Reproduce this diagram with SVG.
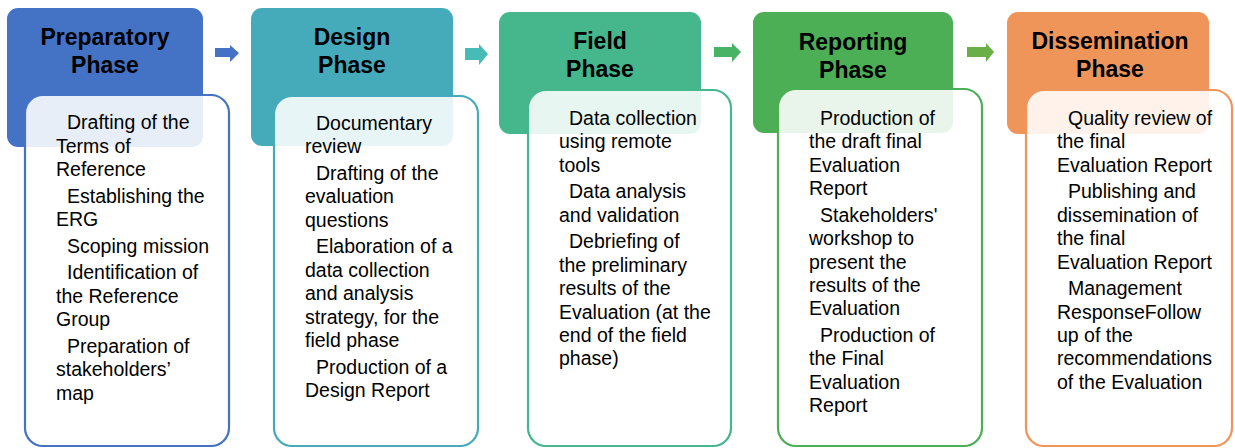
<svg xmlns="http://www.w3.org/2000/svg" width="1235" height="448" viewBox="0 0 1235 448">
  <style>
    .hd { font-family: "Liberation Sans", Arial, sans-serif; font-weight: bold; font-size: 23px; fill: #000; text-anchor: middle; }
    .bd { font-family: "Liberation Sans", Arial, sans-serif; font-size: 19.5px; fill: #000; }
    .box { fill: #ffffff; fill-opacity: 0.88; stroke-width: 2.2; }
  </style>
  <rect width="1235" height="448" fill="#ffffff"/>

  <g id="connectors">
    <polygon points="215,48 230,48 230,45 239,53 230,62 230,57 215,57" fill="#4472c4"/>
    <polygon points="465,48 479,48 479,44 488,54 479,65 479,60 465,60" fill="#47bcb6"/>
    <polygon points="714,47 732,47 732,43 741,52 732,62 732,57 714,57" fill="#48b364"/>
    <polygon points="967,47 986,47 986,43 994,52 986,62 986,57 967,57" fill="#6aae47"/>
  </g>

  <g id="preparatory">
    <rect x="7" y="8" width="196" height="139" rx="11" fill="#4472c4"/>
    <text class="hd"><tspan x="105" y="45">Preparatory</tspan><tspan x="105" y="73">Phase</tspan></text>
    <rect class="box" x="25" y="95" width="204" height="351" rx="18" stroke="#4472c4"/>
    <text class="bd">
      <tspan x="67" y="129.3">Drafting of the</tspan>
      <tspan x="56" y="152.7">Terms of</tspan>
      <tspan x="56" y="176.1">Reference</tspan>
      <tspan x="67" y="202.7">Establishing the</tspan>
      <tspan x="56" y="226.1">ERG</tspan>
      <tspan x="67" y="252.7">Scoping mission</tspan>
      <tspan x="67" y="279.3">Identification of</tspan>
      <tspan x="56" y="302.7">the Reference</tspan>
      <tspan x="56" y="326.1">Group</tspan>
      <tspan x="67" y="352.7">Preparation of</tspan>
      <tspan x="56" y="376.1">stakeholders’</tspan>
      <tspan x="56" y="399.5">map</tspan>
    </text>
  </g>

  <g id="design">
    <rect x="251" y="8" width="202" height="138" rx="11" fill="#45abbb"/>
    <text class="hd"><tspan x="352" y="44.5">Design</tspan><tspan x="352" y="73">Phase</tspan></text>
    <rect class="box" x="274" y="96" width="204" height="350" rx="18" stroke="#45abbb"/>
    <text class="bd">
      <tspan x="316" y="130">Documentary</tspan>
      <tspan x="305" y="153.4">review</tspan>
      <tspan x="316" y="180">Drafting of the</tspan>
      <tspan x="305" y="203.4">evaluation</tspan>
      <tspan x="305" y="226.8">questions</tspan>
      <tspan x="316" y="253.4">Elaboration of a</tspan>
      <tspan x="305" y="276.8">data collection</tspan>
      <tspan x="305" y="300.2">and analysis</tspan>
      <tspan x="305" y="323.6">strategy, for the</tspan>
      <tspan x="305" y="347">field phase</tspan>
      <tspan x="316" y="373.6">Production of a</tspan>
      <tspan x="305" y="397">Design Report</tspan>
    </text>
  </g>

  <g id="field">
    <rect x="499" y="12" width="202" height="122" rx="11" fill="#46b68c"/>
    <text class="hd"><tspan x="600" y="48.5">Field</tspan><tspan x="600" y="77">Phase</tspan></text>
    <rect class="box" x="528" y="90" width="203" height="356" rx="18" stroke="#46b68c"/>
    <text class="bd">
      <tspan x="569" y="125">Data collection</tspan>
      <tspan x="559" y="148.4">using remote</tspan>
      <tspan x="559" y="171.8">tools</tspan>
      <tspan x="569" y="198.4">Data analysis</tspan>
      <tspan x="559" y="221.8">and validation</tspan>
      <tspan x="569" y="248.4">Debriefing of</tspan>
      <tspan x="559" y="271.8">the preliminary</tspan>
      <tspan x="559" y="295.2">results of the</tspan>
      <tspan x="559" y="318.6">Evaluation (at the</tspan>
      <tspan x="559" y="342">end of the field</tspan>
      <tspan x="559" y="365.4">phase)</tspan>
    </text>
  </g>

  <g id="reporting">
    <rect x="753" y="12" width="200" height="121" rx="11" fill="#4caf55"/>
    <text class="hd"><tspan x="853" y="49.5">Reporting</tspan><tspan x="853" y="77.5">Phase</tspan></text>
    <rect class="box" x="778" y="89" width="204" height="357" rx="18" stroke="#4caf55"/>
    <text class="bd">
      <tspan x="820" y="125">Production of</tspan>
      <tspan x="809" y="148.4">the draft final</tspan>
      <tspan x="809" y="171.8">Evaluation</tspan>
      <tspan x="809" y="195.2">Report</tspan>
      <tspan x="820" y="221.8">Stakeholders'</tspan>
      <tspan x="809" y="245.2">workshop to</tspan>
      <tspan x="809" y="268.6">present the</tspan>
      <tspan x="809" y="292">results of the</tspan>
      <tspan x="809" y="315.4">Evaluation</tspan>
      <tspan x="820" y="342">Production of</tspan>
      <tspan x="809" y="365.4">the Final</tspan>
      <tspan x="809" y="388.8">Evaluation</tspan>
      <tspan x="809" y="412.2">Report</tspan>
    </text>
  </g>

  <g id="dissemination">
    <rect x="1007" y="12" width="202" height="122" rx="11" fill="#f0955a"/>
    <text class="hd"><tspan x="1110" y="48.5">Dissemination</tspan><tspan x="1110" y="77">Phase</tspan></text>
    <rect class="box" x="1026" y="90" width="206" height="356" rx="18" stroke="#f0955a"/>
    <text class="bd">
      <tspan x="1068" y="125">Quality review of</tspan>
      <tspan x="1057" y="148.4">the final</tspan>
      <tspan x="1057" y="171.8">Evaluation Report</tspan>
      <tspan x="1068" y="198.4">Publishing and</tspan>
      <tspan x="1057" y="221.8">dissemination of</tspan>
      <tspan x="1057" y="245.2">the final</tspan>
      <tspan x="1057" y="268.6">Evaluation Report</tspan>
      <tspan x="1068" y="295.2">Management</tspan>
      <tspan x="1057" y="318.6">ResponseFollow</tspan>
      <tspan x="1057" y="342">up of the</tspan>
      <tspan x="1057" y="365.4">recommendations</tspan>
      <tspan x="1057" y="388.8">of the Evaluation</tspan>
    </text>
  </g>
</svg>
